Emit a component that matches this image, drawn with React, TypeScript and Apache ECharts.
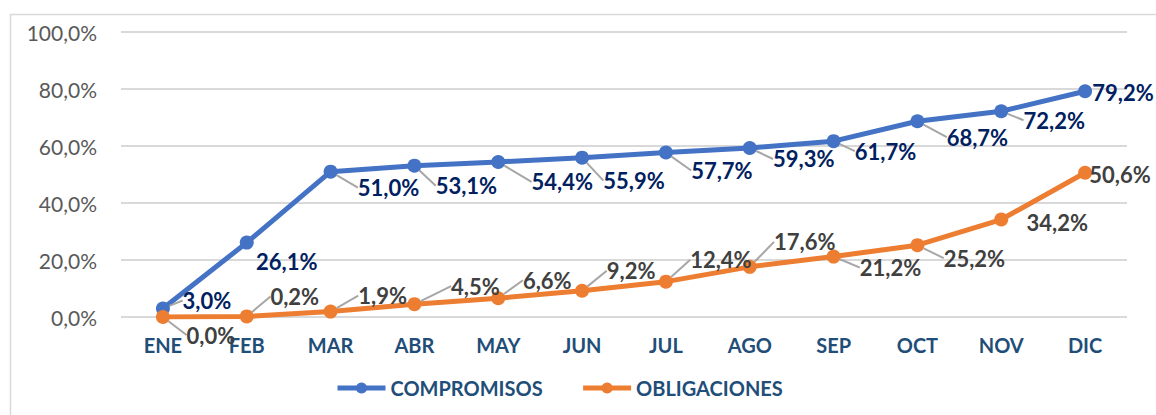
import React, { useEffect, useRef } from "react";
import * as echarts from "echarts";

const categories = ["ENE", "FEB", "MAR", "ABR", "MAY", "JUN", "JUL", "AGO", "SEP", "OCT", "NOV", "DIC"];
const compromisos = [3.0, 26.1, 51.0, 53.1, 54.4, 55.9, 57.7, 59.3, 61.7, 68.7, 72.2, 79.2];
const obligaciones = [0.0, 0.2, 1.9, 4.5, 6.6, 9.2, 12.4, 17.6, 21.2, 25.2, 34.2, 50.6];
const yTicks = [0, 20, 40, 60, 80, 100];

// label offsets (layout only)
const compOffsets = [[44, -8], [40, 19], [58, 16], [52, 20], [64, 20], [52, 23], [56, 18], [54, 11], [52, 10], [60, 16], [53, 9], [38, 1]];
const compLeader = [true, false, true, true, true, true, true, true, true, true, true, false];
const oblOffsets = [[48, 18], [48, -20], [52, -16], [61, -18], [49, -18], [49, -20], [55, -22], [55, -25], [57, 11], [57, 13], [56, 3], [35, 2]];
const oblLeader = [true, true, true, true, true, true, true, true, true, true, false, false];

const fmt = (v: number) => v.toFixed(1).replace(".", ",") + "%";

export default function App() {
  const ref = useRef<HTMLDivElement>(null);
  useEffect(() => {
    const chart = echarts.init(ref.current!, null, { renderer: "svg" });
    const font = "Lato";
    const mk = (vals: number[], leader: boolean[]) =>
      vals.map((v, i) => ({ value: v, labelLine: { show: leader[i] } }));
    chart.setOption({
      animation: false,
      backgroundColor: "#ffffff",
      graphic: [
        {
          type: "rect",
          left: 8,
          top: 12,
          shape: { width: 1170, height: 430 },
          style: { fill: "none", stroke: "#D9D9D9", lineWidth: 1.5 },
          silent: true,
        },
      ],
      grid: { left: 121, right: 29, top: 32, bottom: 98, containLabel: false },
      xAxis: {
        type: "category",
        data: categories,
        boundaryGap: true,
        axisLine: { show: false },
        axisTick: { show: false },
        axisLabel: {
          color: "#1F4E79",
          fontFamily: font,
          fontWeight: "bold",
          fontSize: 20,
          margin: 18,
        },
      },
      yAxis: {
        type: "value",
        min: yTicks[0],
        max: yTicks[yTicks.length - 1],
        interval: 20,
        axisLine: { show: false },
        axisTick: { show: false },
        splitLine: { lineStyle: { color: "#D9D9D9", width: 2 } },
        axisLabel: {
          color: "#595959",
          fontFamily: font,
          fontSize: 21,
          margin: 24,
          formatter: (v: number) => fmt(v),
        },
      },
      legend: {
        left: 330,
        top: 373,
        itemWidth: 48,
        itemHeight: 14,
        itemGap: 38,
        lineStyle: { width: 5 },
        textStyle: { color: "#1F4E79", fontFamily: font, fontWeight: "bold", fontSize: 20 },
        data: ["COMPROMISOS", "OBLIGACIONES"],
      },
      series: [
        {
          name: "COMPROMISOS",
          type: "line",
          data: mk(compromisos, compLeader),
          symbol: "circle",
          symbolSize: 14,
          color: "#4472C4",
          lineStyle: { width: 5, color: "#4472C4" },
          itemStyle: { color: "#4472C4" },
          label: {
            show: true,
            position: "inside",
            color: "#002060",
            fontFamily: font,
            fontWeight: "bold",
            fontSize: 22,
            formatter: (p: any) => fmt(p.value),
          },
          labelLine: { show: true, lineStyle: { color: "#A6A6A6", width: 2 } },
          labelLayout: (p: any) => ({ dx: compOffsets[p.dataIndex][0], dy: compOffsets[p.dataIndex][1] }),
          z: 2,
        },
        {
          name: "OBLIGACIONES",
          type: "line",
          data: mk(obligaciones, oblLeader),
          symbol: "circle",
          symbolSize: 14,
          color: "#ED7D31",
          lineStyle: { width: 5, color: "#ED7D31" },
          itemStyle: { color: "#ED7D31" },
          label: {
            show: true,
            position: "inside",
            color: "#404040",
            fontFamily: font,
            fontWeight: "bold",
            fontSize: 22,
            formatter: (p: any) => fmt(p.value),
          },
          labelLine: { show: true, lineStyle: { color: "#A6A6A6", width: 2 } },
          labelLayout: (p: any) => ({ dx: oblOffsets[p.dataIndex][0], dy: oblOffsets[p.dataIndex][1] }),
          z: 3,
        },
      ],
    });
    return () => chart.dispose();
  }, []);
  return (
    <div
      ref={ref}
      style={{ position: "absolute", left: 0, top: 0, width: 1156, height: 415 }}
    />
  );
}
